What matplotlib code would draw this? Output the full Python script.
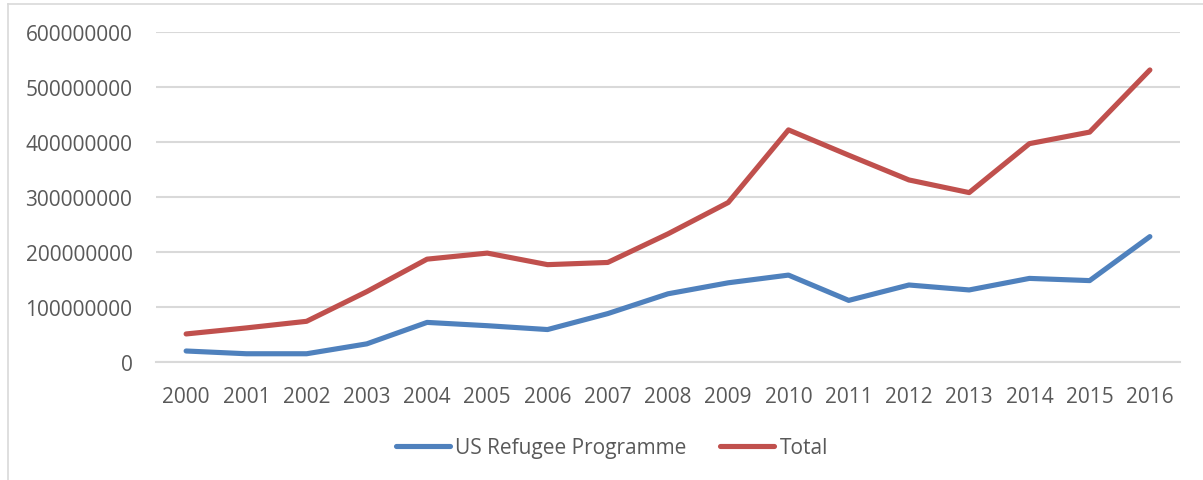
import matplotlib
matplotlib.use("Agg")
import matplotlib.pyplot as plt
from matplotlib.lines import Line2D

years = [str(y) for y in range(2000, 2017)]
us_refugee = [20e6, 15e6, 15e6, 33e6, 72e6, 66e6, 59e6, 88e6, 124e6, 144e6, 158e6,
              112e6, 140e6, 131e6, 152e6, 148e6, 228e6]
total = [51e6, 62e6, 74e6, 128e6, 187e6, 198e6, 177e6, 181e6, 233e6, 290e6, 422e6,
         376e6, 331e6, 308e6, 397e6, 418e6, 531e6]
yticks = [0, 100000000, 200000000, 300000000, 400000000, 500000000, 600000000]

plt.rcParams['font.family'] = ['Open Sans', 'DejaVu Sans']
TXT = '#595959'
W, H = 1203, 481
fig = plt.figure(figsize=(W / 100, H / 100), dpi=100)
ax = fig.add_axes([156 / W, 1 - 363 / H, (1180 - 156) / W, (363 - 33) / H])

x = range(len(years))
ax.plot(x, us_refugee, color='#4F81BD', lw=3.7, solid_capstyle='round',
        solid_joinstyle='round', label='US Refugee Programme', zorder=3)
ax.plot(x, total, color='#C0504D', lw=3.7, solid_capstyle='round',
        solid_joinstyle='round', label='Total', zorder=3)

ax.set_xlim(-0.5, len(years) - 0.5)
ax.set_ylim(0, 600000000)
ax.set_xticks(list(x))
ax.set_xticklabels(years)
ax.set_yticks(yticks)
ax.set_yticklabels([str(v) for v in yticks])
ax.tick_params(axis='both', length=0, labelsize=15, colors=TXT)
ax.tick_params(axis='x', pad=17)
ax.tick_params(axis='y', pad=17)
ax.grid(axis='y', color='#D9D9D9', lw=1.5)
ax.set_axisbelow(True)
for s in ['top', 'right', 'left']:
    ax.spines[s].set_visible(False)
ax.spines['bottom'].set_color('#D9D9D9')
ax.spines['bottom'].set_linewidth(1.5)

# chart border (left & top visible)
fig.add_artist(Line2D([7.5 / W, 7.5 / W], [0, 1 - 5 / H], color='#D9D9D9', lw=1.2,
                      transform=fig.transFigure))
fig.add_artist(Line2D([7.5 / W, 1], [1 - 5 / H, 1 - 5 / H], color='#D9D9D9', lw=1.2,
                      transform=fig.transFigure))

leg = fig.legend(loc='center', bbox_to_anchor=(612 / W, 1 - 449 / H), ncol=2,
                 frameon=False, fontsize=15, handlelength=2.6, handletextpad=0.25,
                 columnspacing=1.6, labelcolor=TXT)

fig.savefig('out.png', dpi=100)
